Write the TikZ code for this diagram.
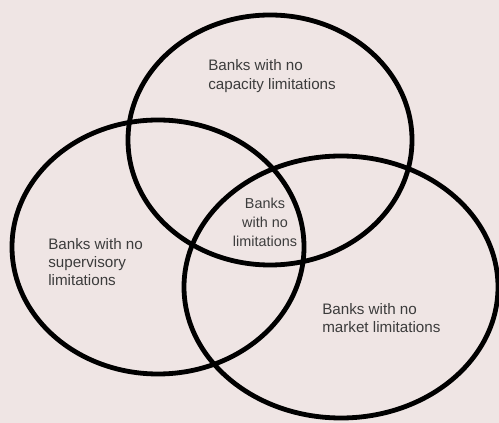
\documentclass[tikz,border=0pt]{standalone}
\usepackage{fontspec}
\setmainfont{Liberation Sans}
\definecolor{bgpink}{HTML}{EFE5E4}
\definecolor{txtgray}{HTML}{3C3C3C}
\tikzset{
    ring/.style = {draw=black, line width=3.6pt},
    label/.style = {text=txtgray, align=left, inner sep=0pt,
        font=\fontsize{11.4}{13.8}\selectfont},
    midlabel/.style = {label, align=center,
        font=\fontsize{10.8}{14.2}\selectfont}
}

\begin{document}
\begin{tikzpicture}[x=0.75pt, y=-0.75pt]
                \fill[bgpink] (0,0) rectangle (499,423);
                \useasboundingbox (0,0) rectangle (499,423);
                \draw[ring] (270,140) ellipse (142 and 125);
                \draw[ring] (158,247) ellipse (146 and 127);
                \draw[ring] (341,287) ellipse (157 and 131);
                \node[label, anchor=west] (capacity) at (208,76) {Banks with no\\capacity limitations};
                \node[label, anchor=west] (supervisory) at (48,262) {Banks with no\\supervisory\\limitations};
                \node[label, anchor=west] (market) at (322,318) {Banks with no\\market limitations};
                \node[midlabel] (all) at (265,222) {Banks\\with no\\limitations};
            \end{tikzpicture}
\end{document}
